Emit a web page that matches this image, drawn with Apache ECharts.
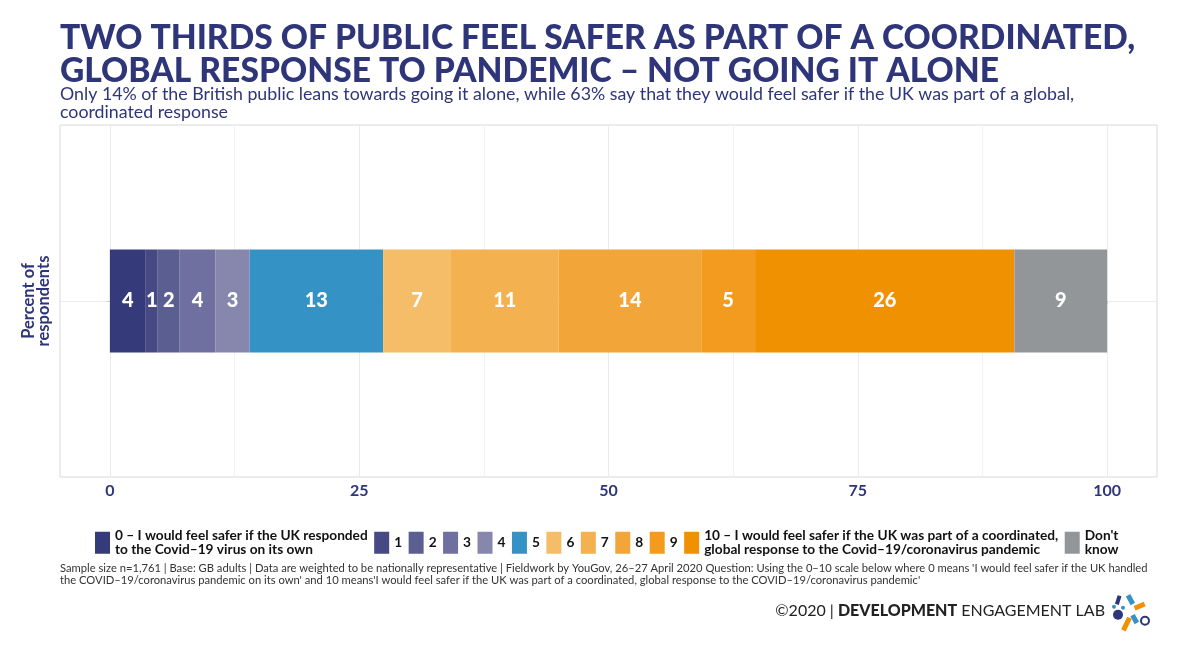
<!DOCTYPE html>
<html><head><meta charset="utf-8">
<script src="https://cdn.jsdelivr.net/npm/echarts@6/dist/echarts.min.js"></script>
<style>html,body{margin:0;padding:0;background:#fff}#c{width:1197px;height:652px}</style>
</head><body><div id="c"></div>
<script>
const categories = ['Percent of respondents'];
const seriesNames = ['0','1','2','3','4','5','6','7','8','9','10',"Don't know"];
const values = [3.6, 1.2, 2.2, 3.6, 3.4, 13.4, 6.8, 10.8, 14.3, 5.4, 26.0, 9.3];
const colors = ['#353a7b','#464983','#5b5e91','#6f6fa0','#8787ae','#3592c5','#f5bd68','#f4b14f','#f2a63a','#f29b1e','#ef9100','#939699'];
const legendLabels = [
  '0 – I would feel safer if the UK responded\nto the Covid–19 virus on its own',
  '1','2','3','4','5','6','7','8','9',
  '10 – I would feel safer if the UK was part of a coordinated,\nglobal response to the Covid–19/coronavirus pandemic',
  "Don't\nknow"
];
const xTicks = [0, 25, 50, 75, 100];
const xMinorTicks = [12.5, 37.5, 62.5, 87.5];
const yTicks = [0];

const NAVY = '#2e3579';
const FONT = 'Lato';

const chart = echarts.init(document.getElementById('c'), null, {renderer: 'canvas'});

const series = seriesNames.map((n, i) => ({
  name: n,
  type: 'bar',
  stack: 'total',
  xAxisIndex: 0,
  yAxisIndex: 0,
  barWidth: '29.3%',
  itemStyle: {color: colors[i]},
  label: {
    show: true,
    position: 'inside',
    color: '#fff',
    fontFamily: FONT,
    fontWeight: 900,
    fontSize: 20,
    formatter: p => Math.round(p.value)
  },
  data: [values[i]]
}));

chart.setOption({
  animation: false,
  backgroundColor: '#fff',
  textStyle: {fontFamily: FONT},
  title: [
    {
      text: 'TWO THIRDS OF PUBLIC FEEL SAFER AS PART OF A COORDINATED,\nGLOBAL RESPONSE TO PANDEMIC – NOT GOING IT ALONE',
      left: 60, top: 22, padding: 0,
      textStyle: {fontFamily: FONT, fontWeight: 900, fontSize: 33.6, color: NAVY, lineHeight: 33}
    },
    {
      text: 'Only 14% of the British public leans towards going it alone, while 63% say that they would feel safer if the UK was part of a global,\ncoordinated response',
      left: 60, top: 85, padding: 0,
      textStyle: {fontFamily: FONT, fontWeight: 'normal', fontSize: 17.8, color: NAVY, lineHeight: 18}
    },
    {
      text: "Sample size n=1,761 | Base: GB adults | Data are weighted to be nationally representative | Fieldwork by YouGov, 26–27 April 2020 Question: Using the 0–10 scale below where 0 means 'I would feel safer if the UK handled\nthe COVID–19/coronavirus pandemic on its own' and 10 means'I would feel safer if the UK was part of a coordinated, global response to the COVID–19/coronavirus pandemic'",
      left: 60, top: 563, padding: 0,
      textStyle: {fontFamily: FONT, fontWeight: 'normal', fontSize: 11.2, color: '#333', lineHeight: 11.5}
    },
    {
      text: '{a|©2020 | }{b|DEVELOPMENT}{a| ENGAGEMENT LAB}',
      right: 92, top: 603, padding: 0,
      textStyle: {
        rich: {
          a: {fontFamily: FONT, fontSize: 16, color: '#222', fontWeight: 'normal'},
          b: {fontFamily: FONT, fontSize: 16, color: '#222', fontWeight: 900}
        }
      }
    }
  ],
  legend: {
    data: seriesNames,
    left: 95, top: 529,
    itemWidth: 15, itemHeight: 22, itemGap: 6.5,
    icon: 'rect',
    padding: 0,
    formatter: name => legendLabels[seriesNames.indexOf(name)],
    textStyle: {fontFamily: FONT, fontWeight: 'bold', fontSize: 13.7, color: '#111', lineHeight: 13.5}
  },
  grid: {
    left: 60, right: 40, top: 125, bottom: 175,
    show: true, borderColor: '#d9d9d9', borderWidth: 1,
    containLabel: false, outerBoundsMode: 'none'
  },
  xAxis: [
    {
      type: 'value', min: -5, max: 105, position: 'bottom',
      axisLine: {show: false},
      axisTick: {show: true, customValues: xTicks, length: 3, lineStyle: {color: '#cfcfcf'}},
      axisLabel: {customValues: xTicks, fontFamily: FONT, fontWeight: 'bold', fontSize: 16, color: NAVY, margin: 6},
      splitLine: {show: true, lineStyle: {color: '#ebebeb', width: 1}}
    },
    {
      type: 'value', min: -5, max: 105, position: 'bottom',
      axisLine: {show: false},
      axisTick: {show: false, customValues: xMinorTicks},
      axisLabel: {show: false, customValues: xMinorTicks},
      splitLine: {show: true, lineStyle: {color: '#f3f3f3', width: 1}}
    }
  ],
  yAxis: [
    {
      type: 'category', data: categories,
      axisLine: {show: false}, axisTick: {show: false}, axisLabel: {show: false},
      splitLine: {show: false},
      name: 'Percent of\nrespondents', nameLocation: 'middle', nameRotate: 90, nameGap: 9,
      nameTextStyle: {fontFamily: FONT, fontWeight: 'bold', fontSize: 16.5, color: NAVY, lineHeight: 15}
    },
    {
      type: 'value', min: -1, max: 1, position: 'left',
      axisLine: {show: false},
      axisTick: {show: true, customValues: yTicks, length: 3, lineStyle: {color: '#cfcfcf'}},
      axisLabel: {show: false, customValues: yTicks},
      splitLine: {show: true, lineStyle: {color: '#ebebeb', width: 1}}
    }
  ],
  series: series,
  graphic: [
    {
      type: 'group', left: 1112, top: 594,
      children: [
        {type: 'rect', shape: {x: 8, y: 0, width: 4, height: 9}, rotation: -0.3, style: {fill: '#2e3579'}},
        {type: 'rect', shape: {x: 18, y: 2, width: 5, height: 10}, rotation: 0.5, origin: [20, 7], style: {fill: '#3592c5'}},
        {type: 'circle', shape: {cx: 4, cy: 14, r: 2}, style: {fill: '#3592c5'}},
        {type: 'circle', shape: {cx: 13, cy: 15, r: 2}, style: {fill: '#3592c5'}},
        {type: 'circle', shape: {cx: 8, cy: 22, r: 5}, style: {fill: '#2e3579'}},
        {type: 'rect', shape: {x: 24, y: 11, width: 11, height: 5}, rotation: 0.4, origin: [29, 13], style: {fill: '#ef9100'}},
        {type: 'rect', shape: {x: 14, y: 24, width: 5, height: 14}, rotation: -0.45, origin: [16, 31], style: {fill: '#ef9100'}},
        {type: 'rect', shape: {x: 22, y: 22, width: 5, height: 9}, rotation: 0.5, origin: [24, 26], style: {fill: '#3592c5'}},
        {type: 'circle', shape: {cx: 35, cy: 28, r: 4}, style: {fill: 'none', stroke: '#2e3579', lineWidth: 2}}
      ]
    }
  ]
});
</script>
</body></html>
